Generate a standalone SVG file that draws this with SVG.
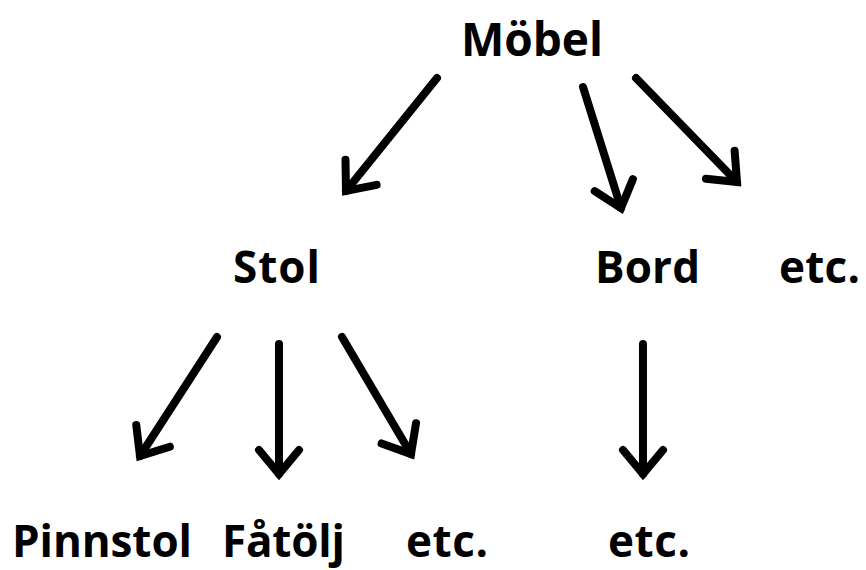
<svg xmlns="http://www.w3.org/2000/svg" width="866" height="570" viewBox="0 0 866 570">
<defs>
<style>
.t{font-family:"Open Sans","Liberation Sans",sans-serif;font-weight:bold;font-size:44px;fill:#000}
.a{stroke:#000;stroke-width:8;fill:none;stroke-linecap:round;marker-end:url(#h)}
</style>
<marker id="h" markerUnits="userSpaceOnUse" viewBox="-40 -30 50 60" refX="0" refY="0" markerWidth="50" markerHeight="60" orient="auto">
<path d="M-24,-20 L0,0 L-24,20" fill="none" stroke="#000" stroke-width="8" stroke-linecap="round" stroke-linejoin="miter"/>
</marker>
</defs>
<rect width="866" height="570" fill="#fff"/>
<g id="connectors">
<line class="a" x1="437" y1="78" x2="346" y2="191"/>
<line class="a" x1="583" y1="87" x2="621" y2="208"/>
<line class="a" x1="636" y1="78" x2="737" y2="182"/>
<line class="a" x1="217" y1="337" x2="140" y2="456"/>
<line class="a" x1="279" y1="344" x2="279" y2="474"/>
<line class="a" x1="342" y1="337" x2="411" y2="454"/>
<line class="a" x1="643" y1="344" x2="643" y2="474"/>
</g>
<g id="mobel"><text class="t" x="461" y="56" textLength="142" style="font-size:46px">Möbel</text></g>
<g id="stol"><text class="t" x="233" y="283" textLength="87">Stol</text></g>
<g id="bord"><text class="t" x="595" y="283" textLength="105">Bord</text></g>
<g id="etc1"><text class="t" x="779" y="283" textLength="81">etc.</text></g>
<g id="pinnstol"><text class="t" x="12" y="557" textLength="180">Pinnstol</text></g>
<g id="fatolj"><text class="t" x="222" y="557" textLength="123">Fåtölj</text></g>
<g id="etc2"><text class="t" x="406" y="557" textLength="82">etc.</text></g>
<g id="etc3"><text class="t" x="608" y="557" textLength="82">etc.</text></g>
</svg>
